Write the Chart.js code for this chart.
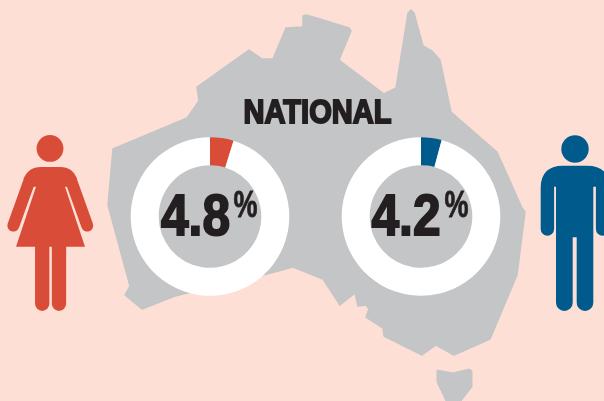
<!DOCTYPE html>
<html>
<head>
<meta charset="utf-8">
<script src="https://cdn.jsdelivr.net/npm/chart.js@4"></script>
<style>
  html, body { margin: 0; padding: 0; width: 604px; height: 401px; overflow: hidden; background: #fddfd5; }
  svg, .ring { position: absolute; }
  svg { left: 0; top: 0; }
  .ring { width: 170px; height: 169px; top: 132px; }
  #ringFemale { left: 125px; }
  #ringMale { left: 336px; }
  text { font-family: "Liberation Sans", sans-serif; font-weight: bold; fill: #231f20; stroke: #231f20; stroke-linejoin: miter; }
</style>
</head>
<body>
<!-- map + figures sit behind the rings -->
<svg width="604" height="401" viewBox="0 0 604 401">
  <path fill="#c3c5c7" stroke="#c3c5c7" stroke-width="1.5" stroke-linejoin="round"
    d="M113 149 L187 118 L199 101 L197 87 L249 50 L262 59 L273 59 L286 28 L303 27 L303 16 L306 15 L320 19 L349 28 L351 31 L339 60 L384 94 L396 88 L408 13 L411 10 L414 13 L423 46 L432 51 L440 60 L451 112 L497 152 L522 208 L525 212 L517 275 L490 339 L454 355 L436 345 L422 355 L384 336 L383 328 L366 317 L369 309 L366 305 L358 306 L355 293 L340 305 L323 279 L293 267 L267 274 L240 280 L175 296 L142 309 L125 295 L130 286 L108 205 Z"/>
  <path fill="#c3c5c7" stroke="#c3c5c7" stroke-width="1" stroke-linejoin="round"
    d="M437 370 L453 373 L469 369 L472 371 L472 387 L461 401 L446 401 L437 382 Z"/>

  <g fill="#d84c38">
    <circle cx="50" cy="148.4" r="13.4"/>
    <path d="M23.4 179 C27 171 32 167 41 167 H60 C69 167 74 171 77.2 179 L70 187 L65 186.7 L85 246.7 H16 L36 186.7 L30 187 Z"/>
  </g>
  <g stroke="#d84c38" stroke-linecap="round" fill="none">
    <path stroke-width="12" d="M29 182 L13.4 225.6 M71.6 182 L87.2 225.6"/>
    <path stroke-width="14.3" d="M42.2 240 V303.8 M59 240 V303.8"/>
  </g>

  <circle cx="575" cy="149" r="13.7" fill="#005a8c"/>
  <path fill="#005a8c" d="M540.7 229 V188 Q540.7 165.7 563 165.7 H587 Q609.3 165.7 609.3 188 V229 A6.7 6.7 0 0 1 595.9 229 V186.7 H593.3 V302.7 A8.3 8.3 0 0 1 576.7 302.7 V237.3 H572.7 V302.7 A8.3 8.3 0 0 1 556 302.7 V186.7 H554.1 V229 A6.7 6.7 0 0 1 540.7 229 Z"/>
</svg>

<canvas id="ringFemale" class="ring"></canvas>
<canvas id="ringMale" class="ring"></canvas>

<svg width="604" height="401" viewBox="0 0 604 401">
  <text id="title" x="243.5" y="123" font-size="34" stroke-width="2" textLength="148" lengthAdjust="spacingAndGlyphs"></text>
  <text id="labelFemale" x="161" y="235" font-size="57" stroke-width="2" textLength="69" lengthAdjust="spacingAndGlyphs"></text>
  <text class="pct" x="233.5" y="216.5" font-size="36" stroke-width="0.8" textLength="24" lengthAdjust="spacingAndGlyphs">%</text>
  <text id="labelMale" x="371.5" y="235" font-size="57" stroke-width="2" textLength="69" lengthAdjust="spacingAndGlyphs"></text>
  <text class="pct" x="444.5" y="216.5" font-size="36" stroke-width="0.8" textLength="24" lengthAdjust="spacingAndGlyphs">%</text>
</svg>

<script>
const titleText = "NATIONAL";
const categories = ["Affected", "Rest"];
const femaleValues = [4.8, 95.2];
const maleValues = [4.2, 95.8];

function drawRing(id, values, color) {
  new Chart(document.getElementById(id), {
    type: "doughnut",
    data: {
      labels: categories,
      datasets: [
        {
          data: values,
          backgroundColor: [color, "#ffffff"],
          borderWidth: 0,
        },
      ],
    },
    options: {
      responsive: false,
      animation: false,
      radius: 79.3,
      cutout: 54.7,
      plugins: { legend: { display: false }, tooltip: { enabled: false } },
    },
  });
}

// canvas size has to be set before Chart reads it
["ringFemale", "ringMale"].forEach((id) => {
  const c = document.getElementById(id);
  c.width = 170;
  c.height = 169;
});

drawRing("ringFemale", femaleValues, "#d84c38");
drawRing("ringMale", maleValues, "#005a8c");

document.getElementById("title").textContent = titleText;
document.getElementById("labelFemale").textContent = femaleValues[0].toFixed(1);
document.getElementById("labelMale").textContent = maleValues[0].toFixed(1);
</script>
</body>
</html>
